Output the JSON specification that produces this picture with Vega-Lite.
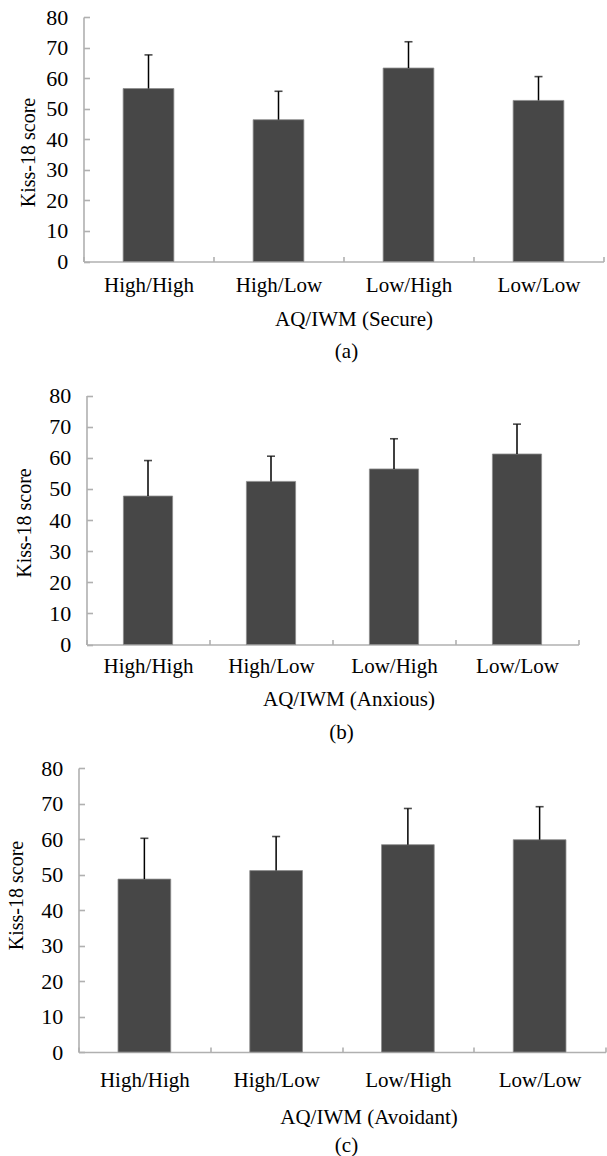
{
  "$schema": "https://vega.github.io/schema/vega-lite/v6.json",
  "padding": {"left": 5.5, "top": 6, "right": 0, "bottom": 0},
  "background": "white",
  "spacing": 100,
  "bounds": "flush",
  "config": {
    "view": {"stroke": null},
    "font": "Liberation Serif",
    "axis": {
      "labelFont": "Liberation Serif", "labelFontSize": 21, "labelColor": "black", "labelOverlap": false,
      "titleFont": "Liberation Serif", "titleFontSize": 21, "titleColor": "black", "titleFontWeight": "normal",
      "domainColor": "#b0b0b0", "domainWidth": 1.6, "tickColor": "#b0b0b0", "tickWidth": 1.6, "grid": false
    },
    "title": {"font": "Liberation Serif", "fontSize": 21, "fontWeight": "normal", "color": "black"}
  },
  "data": {"values": [
    {"panel": "a", "group": "High/High", "mean": 56.6, "upper": 67.6},
    {"panel": "a", "group": "High/Low", "mean": 46.4, "upper": 55.7},
    {"panel": "a", "group": "Low/High", "mean": 63.3, "upper": 71.9},
    {"panel": "a", "group": "Low/Low", "mean": 52.7, "upper": 60.5},
    {"panel": "b", "group": "High/High", "mean": 47.7, "upper": 59.1},
    {"panel": "b", "group": "High/Low", "mean": 52.4, "upper": 60.5},
    {"panel": "b", "group": "Low/High", "mean": 56.4, "upper": 66.1},
    {"panel": "b", "group": "Low/Low", "mean": 61.2, "upper": 70.8},
    {"panel": "c", "group": "High/High", "mean": 48.7, "upper": 60.2},
    {"panel": "c", "group": "High/Low", "mean": 51.1, "upper": 60.7},
    {"panel": "c", "group": "Low/High", "mean": 58.4, "upper": 68.6},
    {"panel": "c", "group": "Low/Low", "mean": 59.8, "upper": 69.1}
  ]},
  "vconcat": [
    {
      "width": 525, "height": 244.5,
      "transform": [{"filter": "datum.panel == 'a'"}],
      "title": {"text": "(a)", "orient": "bottom", "anchor": "middle", "dx": 5.5, "offset": 12},
      "encoding": {
        "x": {"field": "group", "type": "nominal", "sort": ["High/High", "High/Low", "Low/High", "Low/Low"],
          "scale": {"range": [5, 525], "paddingInner": 0, "paddingOuter": 0},
          "axis": {"title": "AQ/IWM (Secure)", "labelAngle": 0, "tickBand": "extent", "tickSize": -5, "labelBaseline": "middle", "labelPadding": 28.5,
            "titleX": 275, "titleY": 57.5, "titleBaseline": "middle", "titleAnchor": null}},
        "y": {"field": "mean", "type": "quantitative",
          "scale": {"domain": [0, 80], "range": [244.5, 0], "nice": false},
          "axis": {"title": "Kiss-18 score", "values": [0, 10, 20, 30, 40, 50, 60, 70, 80], "tickCount": 9, "labelFontSize": 22, "titleFontSize": 20, "offset": -5, "tickSize": -6, "labelPadding": 21.7,
            "titleX": -55, "titleY": 135, "titleBaseline": "middle", "titleAnchor": null}}
      },
      "layer": [
        {"mark": {"type": "bar", "width": {"band": 0.39}, "color": "#474747", "stroke": "#8c8c8c", "strokeWidth": 0.8}},
        {"mark": {"type": "rule", "color": "black", "strokeWidth": 1.5},
          "encoding": {"y2": {"field": "upper"}}},
        {"mark": {"type": "tick", "color": "black", "thickness": 1.6, "size": 8, "orient": "horizontal"},
          "encoding": {"y": {"field": "upper", "type": "quantitative", "axis": {"title": "Kiss-18 score", "values": [0, 10, 20, 30, 40, 50, 60, 70, 80], "tickCount": 9, "labelFontSize": 22, "titleFontSize": 20, "offset": -5, "tickSize": -6, "labelPadding": 21.7,
            "titleX": -55, "titleY": 135, "titleBaseline": "middle", "titleAnchor": null}}}}
      ]
    },
    {
      "width": 500, "height": 282.5,
      "transform": [{"filter": "datum.panel == 'b'"}],
      "title": {"text": "(b)", "orient": "bottom", "anchor": "middle", "dx": 13, "offset": 12},
      "encoding": {
        "x": {"field": "group", "type": "nominal", "sort": ["High/High", "High/Low", "Low/High", "Low/Low"],
          "scale": {"range": [8, 500], "paddingInner": 0, "paddingOuter": 0},
          "axis": {"title": "AQ/IWM (Anxious)", "labelAngle": 0, "tickBand": "extent", "tickSize": -5, "labelBaseline": "middle", "labelPadding": 27,
            "titleX": 270, "titleY": 55, "titleBaseline": "middle", "titleAnchor": null}},
        "y": {"field": "mean", "type": "quantitative",
          "scale": {"domain": [0, 80], "range": [282.5, 33.5], "nice": false},
          "axis": {"title": "Kiss-18 score", "values": [0, 10, 20, 30, 40, 50, 60, 70, 80], "tickCount": 9, "labelFontSize": 22, "titleFontSize": 20, "offset": -8, "tickSize": -6, "labelPadding": 21.7,
            "titleX": -62, "titleY": 160.5, "titleBaseline": "middle", "titleAnchor": null}}
      },
      "layer": [
        {"mark": {"type": "bar", "width": {"band": 0.4}, "color": "#474747", "stroke": "#8c8c8c", "strokeWidth": 0.8}},
        {"mark": {"type": "rule", "color": "black", "strokeWidth": 1.5},
          "encoding": {"y2": {"field": "upper"}}},
        {"mark": {"type": "tick", "color": "black", "thickness": 1.6, "size": 8, "orient": "horizontal"},
          "encoding": {"y": {"field": "upper", "type": "quantitative", "axis": {"title": "Kiss-18 score", "values": [0, 10, 20, 30, 40, 50, 60, 70, 80], "tickCount": 9, "labelFontSize": 22, "titleFontSize": 20, "offset": -8, "tickSize": -6, "labelPadding": 21.7,
            "titleX": -62, "titleY": 160.5, "titleBaseline": "middle", "titleAnchor": null}}}}
      ]
    },
    {
      "width": 527, "height": 307,
      "transform": [{"filter": "datum.panel == 'c'"}],
      "title": {"text": "(c)", "orient": "bottom", "anchor": "middle", "dx": 4.5, "offset": 8},
      "encoding": {
        "x": {"field": "group", "type": "nominal", "sort": ["High/High", "High/Low", "Low/High", "Low/Low"],
          "scale": {"range": [0, 527], "paddingInner": 0, "paddingOuter": 0},
          "axis": {"title": "AQ/IWM (Avoidant)", "labelAngle": 0, "tickBand": "extent", "tickSize": -5, "labelBaseline": "middle", "labelPadding": 33,
            "titleX": 290, "titleY": 65, "titleBaseline": "middle", "titleAnchor": null}},
        "y": {"field": "mean", "type": "quantitative",
          "scale": {"domain": [0, 80], "range": [307, 23], "nice": false},
          "axis": {"title": "Kiss-18 score", "values": [0, 10, 20, 30, 40, 50, 60, 70, 80], "tickCount": 9, "labelFontSize": 22, "titleFontSize": 20, "offset": 0, "tickSize": -6, "labelPadding": 21.7,
            "titleX": -62.5, "titleY": 150, "titleBaseline": "middle", "titleAnchor": null}}
      },
      "layer": [
        {"mark": {"type": "bar", "width": {"band": 0.4}, "color": "#474747", "stroke": "#8c8c8c", "strokeWidth": 0.8}},
        {"mark": {"type": "rule", "color": "black", "strokeWidth": 1.5},
          "encoding": {"y2": {"field": "upper"}}},
        {"mark": {"type": "tick", "color": "black", "thickness": 1.6, "size": 8, "orient": "horizontal"},
          "encoding": {"y": {"field": "upper", "type": "quantitative", "axis": {"title": "Kiss-18 score", "values": [0, 10, 20, 30, 40, 50, 60, 70, 80], "tickCount": 9, "labelFontSize": 22, "titleFontSize": 20, "offset": 0, "tickSize": -6, "labelPadding": 21.7,
            "titleX": -62.5, "titleY": 150, "titleBaseline": "middle", "titleAnchor": null}}}}
      ]
    }
  ]
}
